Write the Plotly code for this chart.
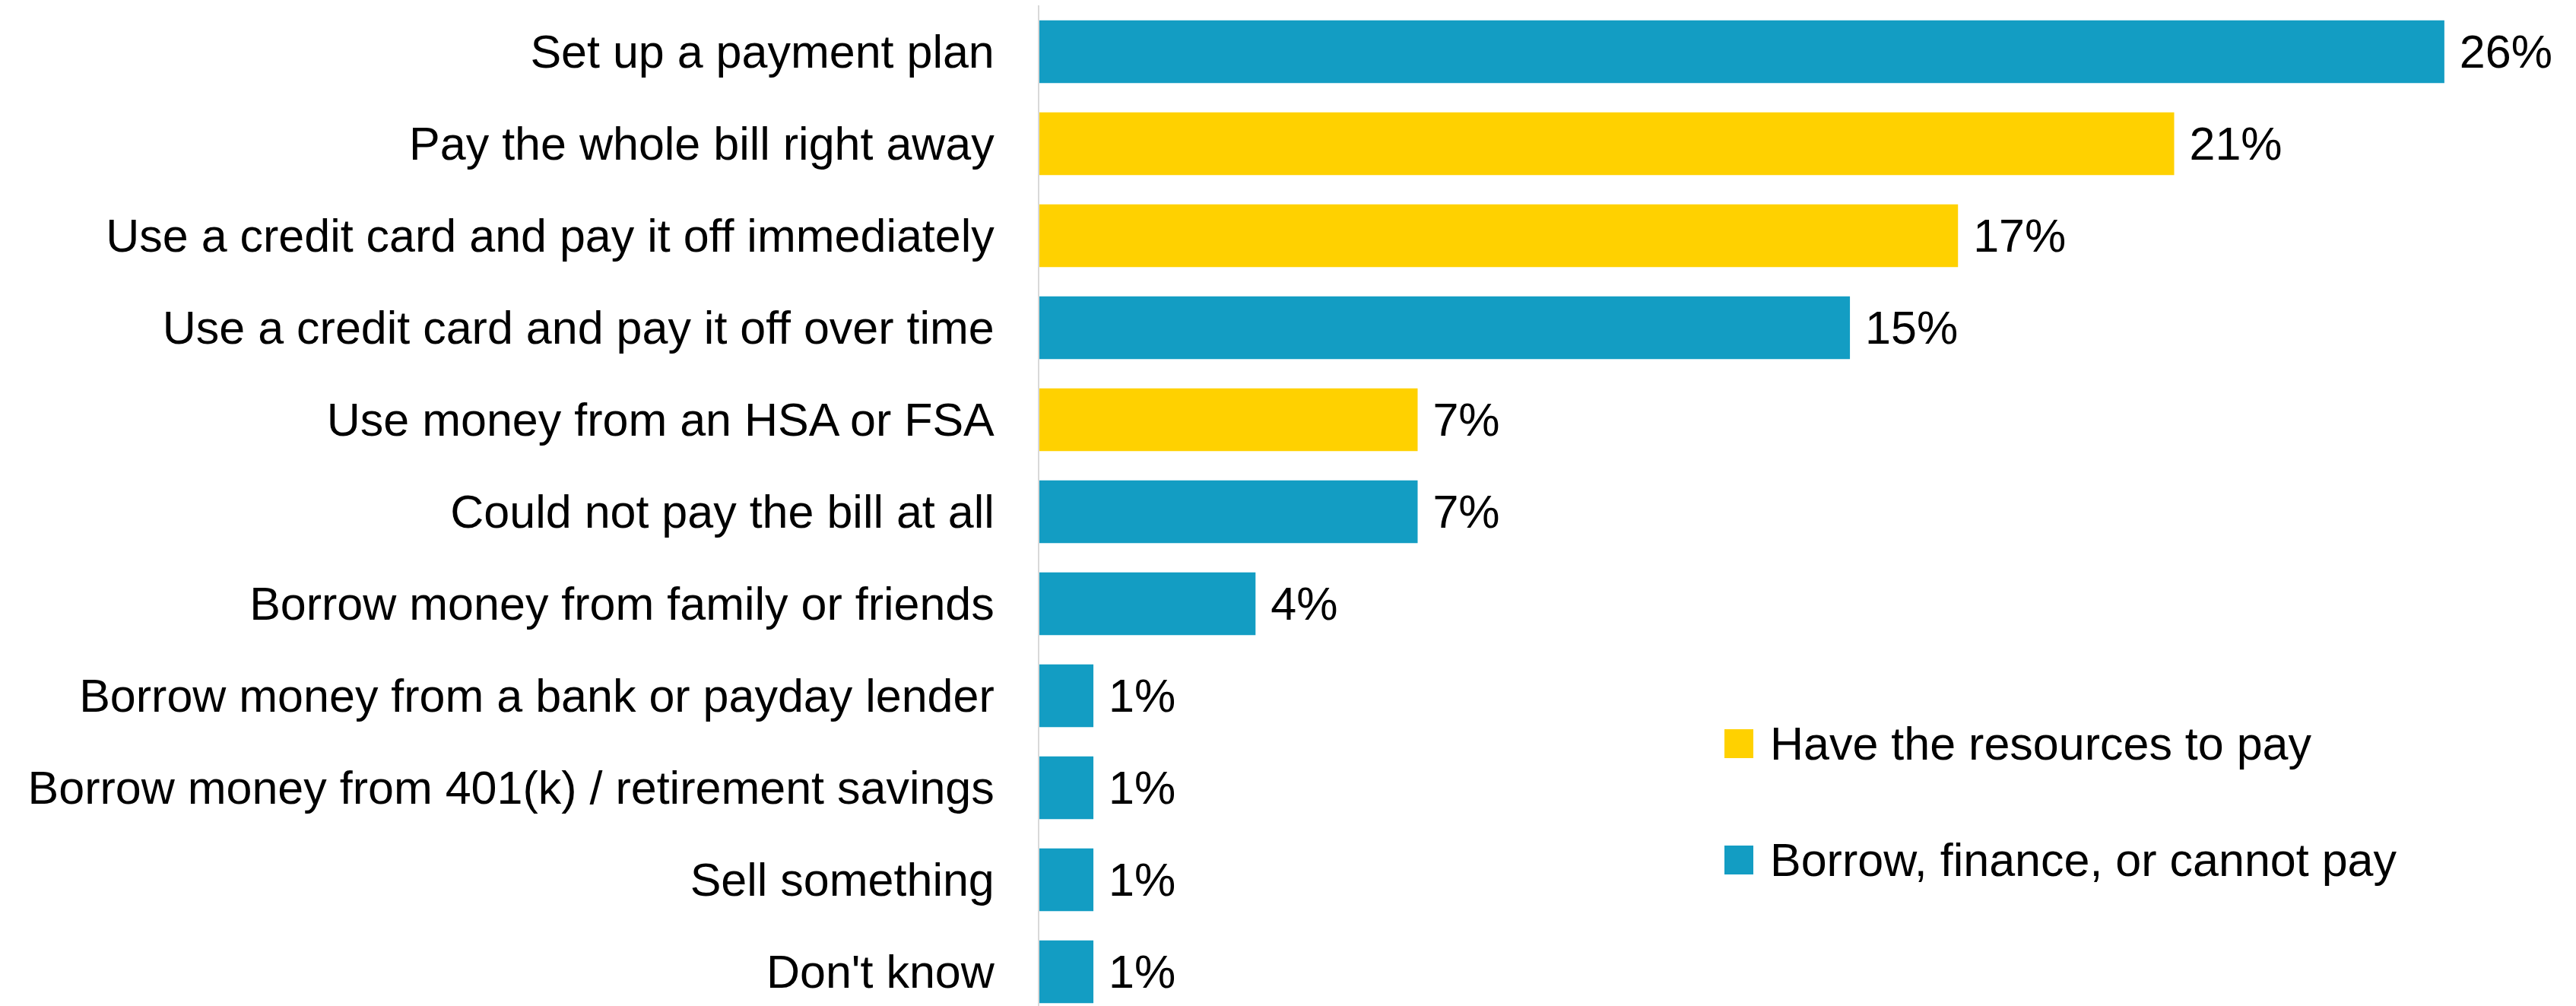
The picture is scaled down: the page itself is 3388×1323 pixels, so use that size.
import plotly.graph_objects as go

# Responses, top to bottom
categories = [
    "Set up a payment plan",
    "Pay the whole bill right away",
    "Use a credit card and pay it off immediately",
    "Use a credit card and pay it off over time",
    "Use money from an HSA or FSA",
    "Could not pay the bill at all",
    "Borrow money from family or friends",
    "Borrow money from a bank or payday lender",
    "Borrow money from 401(k) / retirement savings",
    "Sell something",
    "Don't know",
]
values = [26, 21, 17, 15, 7, 7, 4, 1, 1, 1, 1]
groups = ["borrow", "have", "have", "borrow", "have", "borrow",
          "borrow", "borrow", "borrow", "borrow", "borrow"]

group_names = {
    "have": "Have the resources to pay",
    "borrow": "Borrow, finance, or cannot pay",
}
group_colors = {"have": "#FFD100", "borrow": "#139DC3"}
legend_order = ["have", "borrow"]

FONT = "Liberation Sans, Arial, sans-serif"
FS = 61
W, H = 3388, 1323
ML, MR, MT, MB = 1367, 31, 7, 0

fig = go.Figure()
for g in legend_order:
    ys = [c for c, k in zip(categories, groups) if k == g]
    xs = [v for v, k in zip(values, groups) if k == g]
    fig.add_trace(go.Bar(
        y=ys, x=xs, orientation="h", name=group_names[g],
        marker=dict(color=group_colors[g], line=dict(width=0)),
        text=[f" {v}%" for v in xs], textposition="outside",
        textfont=dict(family=FONT, size=FS, color="#000000"),
        constraintext="none", cliponaxis=False, showlegend=False,
        hoverinfo="skip",
    ))

# Hand-drawn legend: large square swatches with labels
plot_w = W - ML - MR
plot_h = H - MT - MB
def px_x(px):
    return (px - ML) / plot_w
def px_y(py):
    return (H - MB - py) / plot_h

shapes, annotations = [], []
swatch_left, swatch_size, row_tops = 2268, 38, [959, 1112]
for g, top in zip(legend_order, row_tops):
    shapes.append(dict(
        type="rect", xref="paper", yref="paper",
        x0=px_x(swatch_left), x1=px_x(swatch_left + swatch_size),
        y0=px_y(top + swatch_size), y1=px_y(top),
        fillcolor=group_colors[g], line=dict(width=0),
    ))
    annotations.append(dict(
        xref="paper", yref="paper", x=px_x(swatch_left + swatch_size + 20),
        y=px_y(top + swatch_size / 2), xanchor="left", yanchor="middle",
        text=group_names[g], showarrow=False,
        font=dict(family=FONT, size=FS, color="#000000"),
    ))

pitch = 121.0
top_val = (MT - 68) / pitch
bottom_val = top_val + plot_h / pitch

fig.update_layout(
    width=W, height=H,
    margin=dict(l=ML, r=MR, t=MT, b=MB, pad=0),
    paper_bgcolor="white", plot_bgcolor="white",
    barmode="overlay", bargap=0.32,
    shapes=shapes, annotations=annotations,
    xaxis=dict(range=[0, 28], visible=False, fixedrange=True),
    yaxis=dict(
        type="category", categoryorder="array", categoryarray=categories,
        range=[bottom_val, top_val],
        showline=True, linecolor="#D9D9D9", linewidth=2,
        showgrid=False, zeroline=False, ticks="",
        ticklabelstandoff=45,
        tickfont=dict(family=FONT, size=FS, color="#000000"),
    ),
)

fig.write_html("out.html")
